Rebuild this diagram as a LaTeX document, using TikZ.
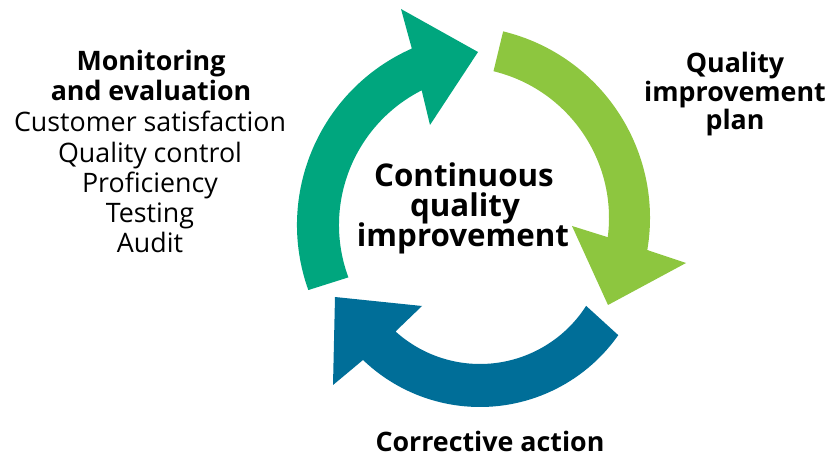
\documentclass[tikz,border=0pt]{standalone}
\usepackage{fontspec}
\setmainfont{Open Sans}
\usetikzlibrary{calc}
\definecolor{cteal}{HTML}{00A67E}
\definecolor{cgreen}{HTML}{8DC63F}
\definecolor{cblue}{HTML}{006E98}
\tikzset{
  lbl/.style={anchor=base, inner sep=0pt, font=\fontsize{26.8}{26.8}\selectfont, text=black},
  lblb/.style={lbl, font=\fontsize{26.8}{26.8}\selectfont\bfseries},
  ctr/.style={anchor=base, inner sep=0pt, font=\fontsize{31.3}{31.3}\selectfont\bfseries, text=black}
}
\begin{document}
\begin{tikzpicture}[x=1pt, y=1pt, yscale=-1]
\useasboundingbox (0,0) rectangle (831,457);
% centres of the three arcs
\coordinate (Ct) at (490,225);
\coordinate (Cg) at (458,218);
\coordinate (Cb) at (480,238);
% teal arrow
\fill[cteal] ($(Ct)+(160.3:193)$) arc[start angle=160.3, end angle=246.1, radius=193]
  -- (401,9) -- (478,52) -- (430,125)
  -- ($(Ct)+(243.1:151)$) arc[start angle=243.1, end angle=159.7, radius=151] -- cycle;
% green arrow
\fill[cgreen] ($(Cg)+(-76.4:192)$) arc[start angle=-76.4, end angle=9.6, radius=192]
  -- (686,263) -- (608,305) -- (572,226)
  -- ($(Cg)+(7.3:151)$) arc[start angle=7.3, end angle=-76.4, radius=151] -- cycle;
% blue arrow
\fill[cblue] ($(Cb)+(35.1:169)$) arc[start angle=35.1, end angle=133.8, radius=169]
  -- (333,385) -- (335,297) -- (422,306)
  -- ($(Cb)+(132.1:126)$) arc[start angle=132.1, end angle=32.6, radius=126] -- cycle;
% left texts
\node[lblb] (mon) at (151,71) {Monitoring};
\node[lblb] (eval) at (151,101) {and evaluation};
\node[lbl] (cust) at (150,132) {Customer satisfaction};
\node[lbl] (qc) at (150,163) {Quality control};
\node[lbl] (prof) at (150,193) {Proficiency};
\node[lbl] (test) at (150,223) {Testing};
\node[lbl] (aud) at (150,253) {Audit};
% right texts
\node[lblb] (q1) at (735,73) {Quality};
\node[lblb] (q2) at (735,101.5) {improvement};
\node[lblb] (q3) at (735,130) {plan};
% centre
\node[ctr] (c1) at (464,187) {Continuous};
\node[ctr] (c2) at (465,217) {quality};
\node[ctr] (c3) at (463,247) {improvement};
% bottom
\node[lblb] (corr) at (490,451.5) {Corrective action};
\end{tikzpicture}
\end{document}
